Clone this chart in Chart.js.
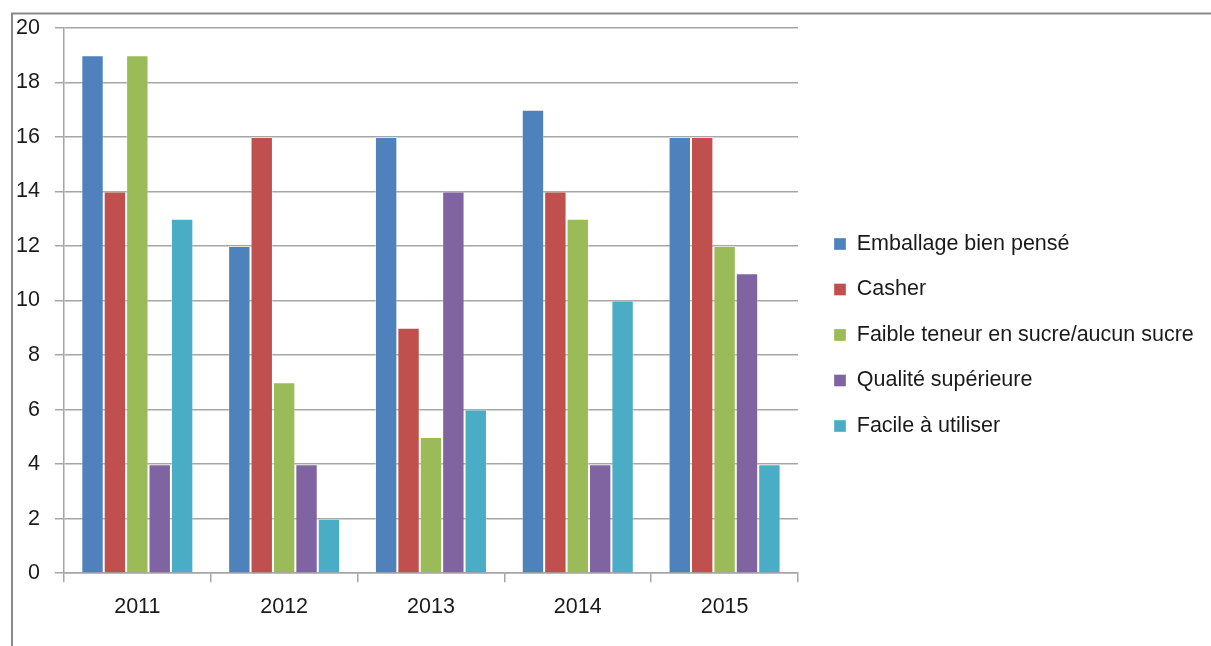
<!DOCTYPE html>
<html>
<head>
<meta charset="utf-8">
<script src="https://cdn.jsdelivr.net/npm/chart.js@4"></script>
<style>
  html, body { margin: 0; padding: 0; background: #fff; }
  #wrap { width: 1211px; height: 646px; position: relative; }
</style>
</head>
<body>
<div id="wrap"><canvas id="myChart"></canvas></div>
<script>
const years = ['2011', '2012', '2013', '2014', '2015'];
const emballage = [19, 12, 16, 17, 16];
const casher = [14, 16, 9, 14, 16];
const faibleSucre = [19, 7, 5, 13, 12];
const qualite = [4, 4, 14, 4, 11];
const facile = [13, 2, 6, 10, 4];
const yTicks = [0, 2, 4, 6, 8, 10, 12, 14, 16, 18, 20];

const seriesNames = ['Emballage bien pensé', 'Casher', 'Faible teneur en sucre/aucun sucre', 'Qualité supérieure', 'Facile à utiliser'];
const seriesColors = ['#4F81BD', '#C0504D', '#9BBB59', '#8064A2', '#4BACC6'];
const seriesData = [emballage, casher, faibleSucre, qualite, facile];

const gridGray = '#a6a6a6';
const font = { family: '"Liberation Sans", Arial, sans-serif', size: 21.5 };

// frame lines + legend nudge (legend is kept narrow for layout, then widened to the canvas edge)
const framePlugin = {
  id: 'frame',
  afterLayout(chart) {
    const lg = chart.legend;
    lg.left += 12;
    lg.right = chart.width;
    lg.width = lg.right - lg.left;
    lg.top += 8; lg.bottom += 8;
  },
  beforeDraw(chart) {
    const ctx = chart.ctx;
    ctx.save();
    ctx.strokeStyle = '#8a8a8a';
    ctx.lineWidth = 2;
    ctx.beginPath();
    ctx.moveTo(12, 646);
    ctx.lineTo(12, 13.5);
    ctx.lineTo(1211, 13.5);
    ctx.stroke();
    ctx.restore();
  }
};

const ctx = document.getElementById('myChart').getContext('2d');
new Chart(ctx, {
  type: 'bar',
  data: {
    labels: years,
    datasets: seriesData.map((d, i) => ({
      label: seriesNames[i],
      data: d,
      backgroundColor: seriesColors[i],
      borderColor: 'rgba(255,255,255,0.35)',
      borderWidth: 1,
      categoryPercentage: 0.763,
      barPercentage: 1.0
    }))
  },
  options: {
    responsive: true,
    maintainAspectRatio: false,
    animation: false,
    layout: { padding: { top: 22, bottom: 14, left: 1, right: 213 } },
    plugins: {
      legend: {
        position: 'right',
        align: 'center',
        maxWidth: 200,
        labels: {
          font: font,
          color: '#1a1a1a',
          boxWidth: 12,
          boxHeight: 12,
          padding: 24
        }
      },
      tooltip: { enabled: false }
    },
    scales: {
      x: {
        grid: { display: true, drawOnChartArea: false, color: gridGray, tickLength: 9, lineWidth: 1.5 },
        border: { color: gridGray, width: 1.5 },
        ticks: { font: font, color: '#1a1a1a', padding: 12 }
      },
      y: {
        min: 0,
        max: 20,
        afterBuildTicks: axis => { axis.ticks = yTicks.map(v => ({ value: v })); },
        grid: { color: gridGray, tickLength: 9, lineWidth: 1.5 },
        border: { color: gridGray, width: 1.5 },
        ticks: { font: font, color: '#1a1a1a', padding: 15 }
      }
    }
  },
  plugins: [framePlugin]
});
</script>
</body>
</html>
